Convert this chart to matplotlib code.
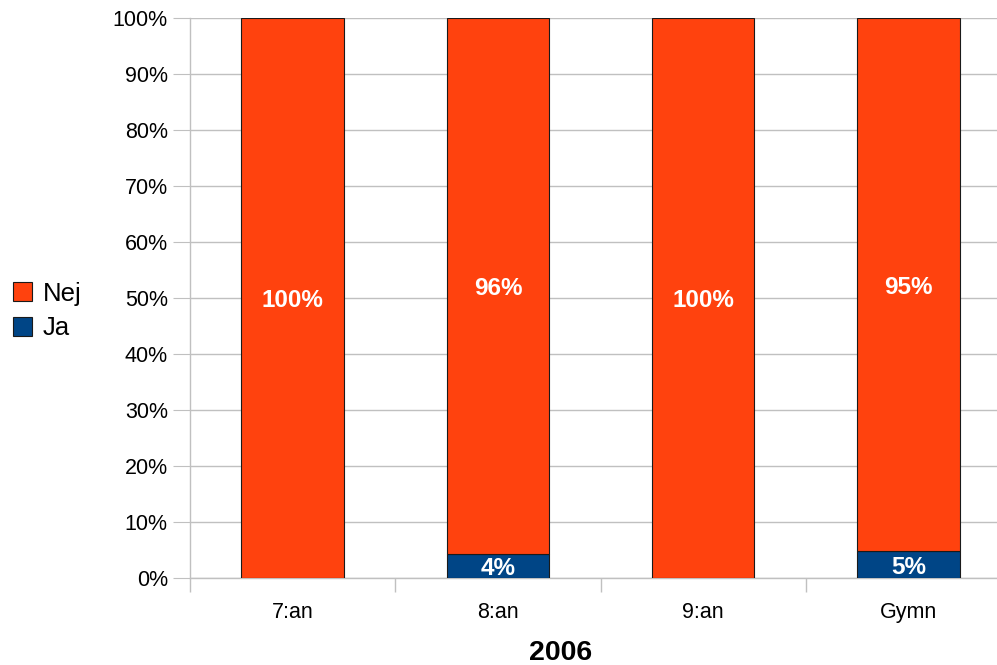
import matplotlib.pyplot as plt
import numpy as np
from matplotlib.patches import Patch

plt.rcParams['font.family'] = ['Liberation Sans', 'DejaVu Sans']

# données
categories = ['7:an', '8:an', '9:an', 'Gymn']
nej = [100, 95.8, 100, 95.2]
ja = [0, 4.2, 0, 4.8]
yticks = [0, 10, 20, 30, 40, 50, 60, 70, 80, 90, 100]
titre = '2006'

col_nej = '#ff420e'
col_ja = '#004586'
col_grid = '#c0c0c0'

W, H = 997, 665
fig = plt.figure(figsize=(W / 100, H / 100), dpi=100)
# la zone de tracé déborde à droite, comme sur l'original
ax = fig.add_axes([190 / W, (H - 578) / H, (1011 - 190) / W, (578 - 18) / H])

x = np.arange(len(categories))
ax.bar(x, ja, width=0.5, color=col_ja, edgecolor='#1a1a1a', linewidth=0.8, zorder=3)
ax.bar(x, nej, width=0.5, bottom=ja, color=col_nej, edgecolor='#1a1a1a', linewidth=0.8, zorder=3)

for i in range(len(categories)):
    if nej[i] > 0:
        ax.text(x[i], ja[i] + nej[i] / 2, '{:.0f}%'.format(nej[i]), ha='center', va='center_baseline',
                color='white', fontsize=17.5, fontweight='bold', zorder=4)
    if ja[i] > 0:
        ax.text(x[i], ja[i] / 2, '{:.0f}%'.format(ja[i]), ha='center', va='center_baseline',
                color='white', fontsize=17.5, fontweight='bold', zorder=4)

ax.set_xlim(-0.5, len(categories) - 0.5)
ax.set_ylim(0, 100)
ax.set_yticks(yticks)
ax.set_yticklabels(['{}%'.format(v) for v in yticks])
ax.set_xticks(x)
ax.set_xticklabels(categories)
ax.set_xticks(np.arange(len(categories) + 1) - 0.5, minor=True)

ax.grid(axis='y', color=col_grid, linewidth=1, zorder=0)
for s in ['top', 'right']:
    ax.spines[s].set_visible(False)
ax.spines['left'].set_color(col_grid)
ax.spines['bottom'].set_color(col_grid)
ax.spines['left'].set_linewidth(1)
ax.spines['bottom'].set_linewidth(1)

ax.tick_params(axis='y', which='major', length=12, color=col_grid, labelsize=15.5, pad=4)
ax.tick_params(axis='x', which='major', length=0, labelsize=15.5, pad=17)
ax.tick_params(axis='x', which='minor', length=10, color=col_grid, width=1)

fig.text(561 / W, 1 - 653 / H, titre, ha='center', va='center', fontsize=20.5, fontweight='bold')

# légende
handles = [Patch(facecolor=col_nej, edgecolor='#1a1a1a', linewidth=0.8, label='Nej'),
           Patch(facecolor=col_ja, edgecolor='#1a1a1a', linewidth=0.8, label='Ja')]
fig.legend(handles=handles, loc='center left', bbox_to_anchor=(0.013, 1 - 311 / H),
           frameon=False, fontsize=18.5, handlelength=0.75, handleheight=0.75,
           handletextpad=0.4, labelspacing=0.42, borderaxespad=0, borderpad=0)

fig.savefig('out.png', dpi=100)
